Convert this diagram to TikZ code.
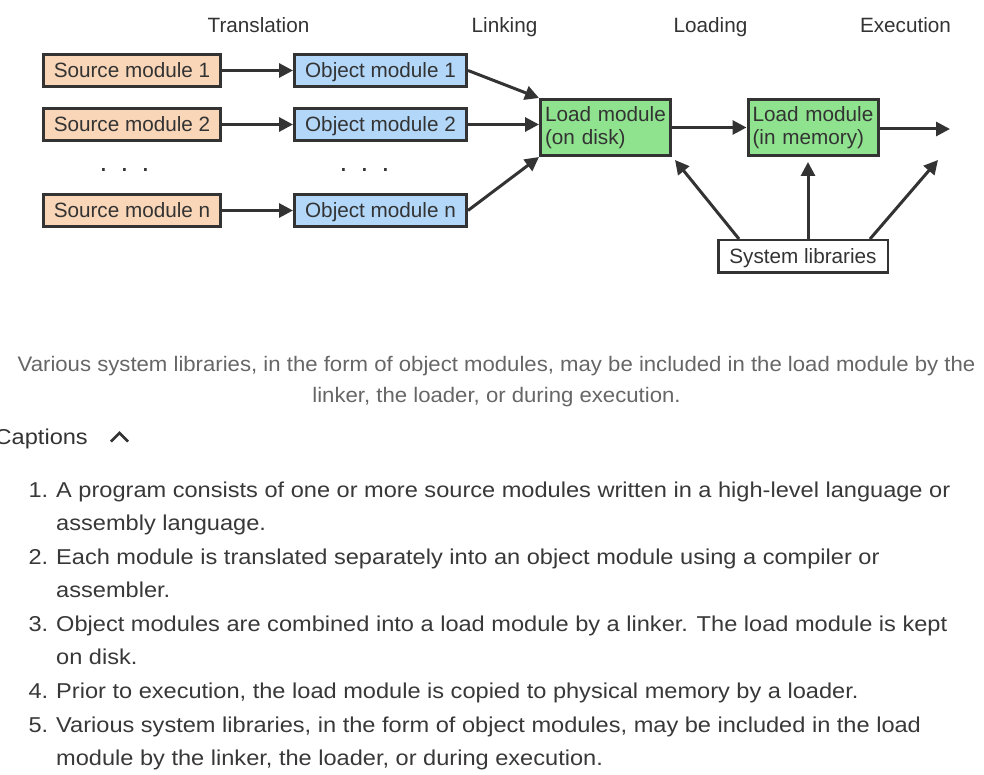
\documentclass[tikz,border=0pt]{standalone}
\usepackage{fontspec}
\setmainfont{Liberation Sans}
\newfontfamily\listfont[FakeStretch=1.097]{Liberation Sans}
\newfontfamily\capfont[FakeStretch=1.055]{Liberation Sans}
\usetikzlibrary{arrows.meta}
\definecolor{ink}{HTML}{333333}
\definecolor{srcfill}{HTML}{F9D6B7}
\definecolor{objfill}{HTML}{B3D7F9}
\definecolor{ldfill}{HTML}{8FE28E}
\definecolor{capgray}{HTML}{666666}
\definecolor{listink}{HTML}{383838}
\tikzset{
  mybox/.style={draw=ink, line width=3pt, text=ink, font=\fontsize{20.7}{23}\selectfont, inner sep=0pt},
  onebox/.style={mybox, text height=14.8pt, text depth=0pt},
  srcbox/.style={onebox, fill=srcfill, minimum width=177pt, minimum height=32pt},
  objbox/.style={onebox, fill=objfill, minimum width=172pt, minimum height=32pt},
  ldbox/.style={mybox, fill=ldfill, align=left, minimum width=130pt, minimum height=56pt, text width=121pt, inner xsep=4.5pt},
  libbox/.style={onebox, fill=white, line width=2.5pt, minimum width=169.5pt, minimum height=32.5pt},
  conn/.style={draw=ink, line width=3pt, -{Triangle[length=14pt,width=14pt]}},
  hdr/.style={text=ink, font=\fontsize{20.7}{23}\selectfont, anchor=base},
  dotrow/.style={text=ink, font=\fontsize{28}{28}\selectfont, anchor=base, inner sep=0pt},
  captxt/.style={text=capgray, font=\capfont\fontsize{21}{23}\selectfont, anchor=base},
  listline/.style={text=listink, font=\listfont\fontsize{21.5}{23}\selectfont, anchor=base west, inner sep=0pt},
  listnum/.style={listline, anchor=base east},
}
\begin{document}
\begin{tikzpicture}[x=1pt,y=-1pt]
\useasboundingbox (0,0) rectangle (984,775);
% headers
\node[hdr] (h1) at (258.5,33) {Translation};
\node[hdr] (h2) at (504.5,33) {Linking};
\node[hdr] (h3) at (710.5,33) {Loading};
\node[hdr] (h4) at (905.5,33) {Execution};
% source
\node[srcbox] (s1) at (132,70.5) {Source module 1};
\node[srcbox] (s2) at (132,124.5) {Source module 2};
\node[srcbox] (sn) at (132,210.5) {Source module n};
% object
\node[objbox] (o1) at (380.5,70.5) {Object module 1};
\node[objbox] (o2) at (380.5,124.5) {Object module 2};
\node[objbox] (on) at (380.5,210.5) {Object module n};
% dots
\node[dotrow] (d1) at (124.5,171.5) {.\hspace{13.2pt}.\hspace{13.2pt}.};
\node[dotrow] (d2) at (364.5,171.5) {.\hspace{13.2pt}.\hspace{13.2pt}.};
% load modules
\node[ldbox] (ld) at (605.5,127.5) {Load module\\(on disk)};
\node[ldbox] (lm) at (813,127.5) {Load module\\(in memory)};
% system libraries
\node[libbox] (lib) at (803,256.5) {System libraries};
% free ends
\coordinate (ex) at (950,129);
\coordinate (t1) at (675,160);
\coordinate (t2) at (808,162);
\coordinate (t3) at (938,160);
% connectors
\draw[conn] (s1.east) -- (o1.west);
\draw[conn] (s2.east) -- (o2.west);
\draw[conn] (sn.east) -- (on.west);
\draw[conn] (o1.east) -- (ld.north west);
\draw[conn] (o2.east) -- (o2.east -| ld.west);
\draw[conn] (on.east) -- (ld.south west);
\draw[conn] (ld.east) -- (lm.west);
\draw[conn] (lm.east |- ex) -- (ex);
\draw[conn] ([xshift=22pt]lib.north west) -- (t1);
\draw[conn] (lib.north -| t2) -- (t2);
\draw[conn] ([xshift=-19pt]lib.north east) -- (t3);
% caption
\node[captxt] (c1) at (496.5,371) {Various system libraries, in the form of object modules, may be included in the load module by the};
\node[captxt] (c2) at (496.5,402) {linker, the loader, or during execution.};
\node[listline, text=ink, anchor=base east] (cp) at (88,444) {Captions};
\draw[ink, line width=2.5pt, line join=miter] (111,441.5) -- (119.5,433) -- (128,441.5);
% list
\node[listnum] (n1) at (48.5,497) {1.};
\node[listline] (l1) at (56,497) {A program consists of one or more source modules written in a high-level language or};
\node[listline] (l1b) at (56,530) {assembly language.};
\node[listnum] (n2) at (48.5,564) {2.};
\node[listline] (l2) at (56,564) {Each module is translated separately into an object module using a compiler or};
\node[listline] (l2b) at (56,597) {assembler.};
\node[listnum] (n3) at (48.5,631) {3.};
\node[listline] (l3) at (56,631) {Object modules are combined into a load module by a linker. The load module is kept};
\node[listline] (l3b) at (56,664) {on disk.};
\node[listnum] (n4) at (48.5,698) {4.};
\node[listline] (l4) at (56,698) {Prior to execution, the load module is copied to physical memory by a loader.};
\node[listnum] (n5) at (48.5,732) {5.};
\node[listline] (l5) at (56,732) {Various system libraries, in the form of object modules, may be included in the load};
\node[listline] (l5b) at (56,765) {module by the linker, the loader, or during execution.};
\end{tikzpicture}
\end{document}
